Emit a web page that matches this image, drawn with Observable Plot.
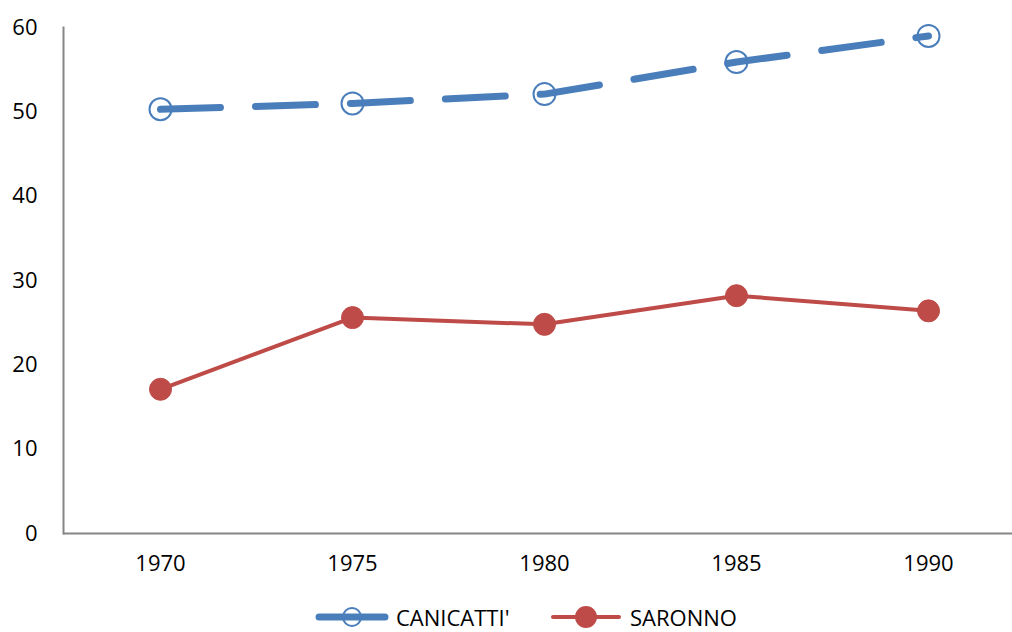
<!DOCTYPE html>
<html>
<head>
<meta charset="utf-8">
<script src="https://cdn.jsdelivr.net/npm/d3@7"></script>
<script src="https://cdn.jsdelivr.net/npm/@observablehq/plot@0.6"></script>
<style>
  html, body { margin: 0; padding: 0; background: #fff; }
  body { width: 1012px; height: 632px; overflow: hidden; font-family: "Open Sans", "Liberation Sans", sans-serif; }
  #chart svg { display: block; }
  #legend { position: relative; height: 32px; font-size: 22px; color: #000; }
  .item { position: absolute; top: 3px; height: 28px; line-height: 28px; display: flex; align-items: center; }
  .item svg { display: block; }
</style>
</head>
<body>
<div id="chart"></div>
<div id="legend"></div>
<script>
const years = [1970, 1975, 1980, 1985, 1990];
const canicatti = [50.3, 51.0, 52.1, 55.9, 59.0];
const saronno = [17.1, 25.6, 24.8, 28.2, 26.4];
const seriesNames = ["CANICATTI'", "SARONNO"];
const yTicks = [0, 10, 20, 30, 40, 50, 60];

const blue = "#4A7EBB";
const red = "#BE4B48";
const axisGray = "#868686";

const dataC = years.map((y, i) => ({year: y, value: canicatti[i], series: seriesNames[0]}));
const dataS = years.map((y, i) => ({year: y, value: saronno[i], series: seriesNames[1]}));

const plot = Plot.plot({
  width: 1012,
  height: 600,
  marginLeft: 63,
  marginRight: 0,
  marginTop: 27,
  marginBottom: 67,
  style: {fontFamily: "'Open Sans', 'Liberation Sans', sans-serif", fontSize: "22px", color: "#000", background: "#fff"},
  x: {type: "point", domain: years, range: [159, 929], padding: 0},
  y: {domain: [0, 60], range: [533, 27]},
  marks: [
    Plot.axisY({ticks: yTicks, tickSize: 0, tickPadding: 26, label: null, fontSize: 22}),
    Plot.axisX({tickSize: 0, tickPadding: 22, label: null, fontSize: 22, tickFormat: d => String(d)}),
    Plot.frame({anchor: "left", stroke: axisGray, strokeWidth: 2, strokeOpacity: 1}),
    Plot.ruleY([0], {stroke: axisGray, strokeWidth: 2}),
    Plot.line(dataS, {x: "year", y: "value", stroke: red, strokeWidth: 4, curve: "linear"}),
    Plot.dot(dataS, {x: "year", y: "value", r: 11, fill: red, stroke: red, strokeWidth: 1}),
    Plot.line(dataC, {x: "year", y: "value", stroke: blue, strokeWidth: 7, strokeDasharray: "60 35", strokeLinecap: "round", curve: "linear"}),
    Plot.dot(dataC, {x: "year", y: "value", r: 11, fill: "none", stroke: blue, strokeWidth: 2})
  ]
});
document.getElementById("chart").appendChild(plot);

// Legend
const legend = document.getElementById("legend");
const items = [
  {name: seriesNames[0], left: 314, color: blue, width: 7, filled: false, r: 9},
  {name: seriesNames[1], left: 548, color: red, width: 4, filled: true, r: 10}
];
items.forEach(it => {
  const div = document.createElement("div");
  div.className = "item";
  div.style.left = it.left + "px";
  const svgNS = "http://www.w3.org/2000/svg";
  const s = document.createElementNS(svgNS, "svg");
  s.setAttribute("width", 76);
  s.setAttribute("height", 28);
  const l = document.createElementNS(svgNS, "line");
  l.setAttribute("x1", 5); l.setAttribute("x2", 71);
  l.setAttribute("y1", 14); l.setAttribute("y2", 14);
  l.setAttribute("stroke", it.color);
  l.setAttribute("stroke-width", it.width);
  l.setAttribute("stroke-linecap", "round");
  s.appendChild(l);
  const c = document.createElementNS(svgNS, "circle");
  c.setAttribute("cx", 38); c.setAttribute("cy", 14);
  c.setAttribute("r", it.r);
  c.setAttribute("fill", it.filled ? it.color : "none");
  c.setAttribute("stroke", it.color);
  c.setAttribute("stroke-width", 2);
  s.appendChild(c);
  div.appendChild(s);
  const t = document.createElement("span");
  t.textContent = it.name;
  t.style.marginLeft = "6px";
  div.appendChild(t);
  legend.appendChild(div);
});
</script>
</body>
</html>
